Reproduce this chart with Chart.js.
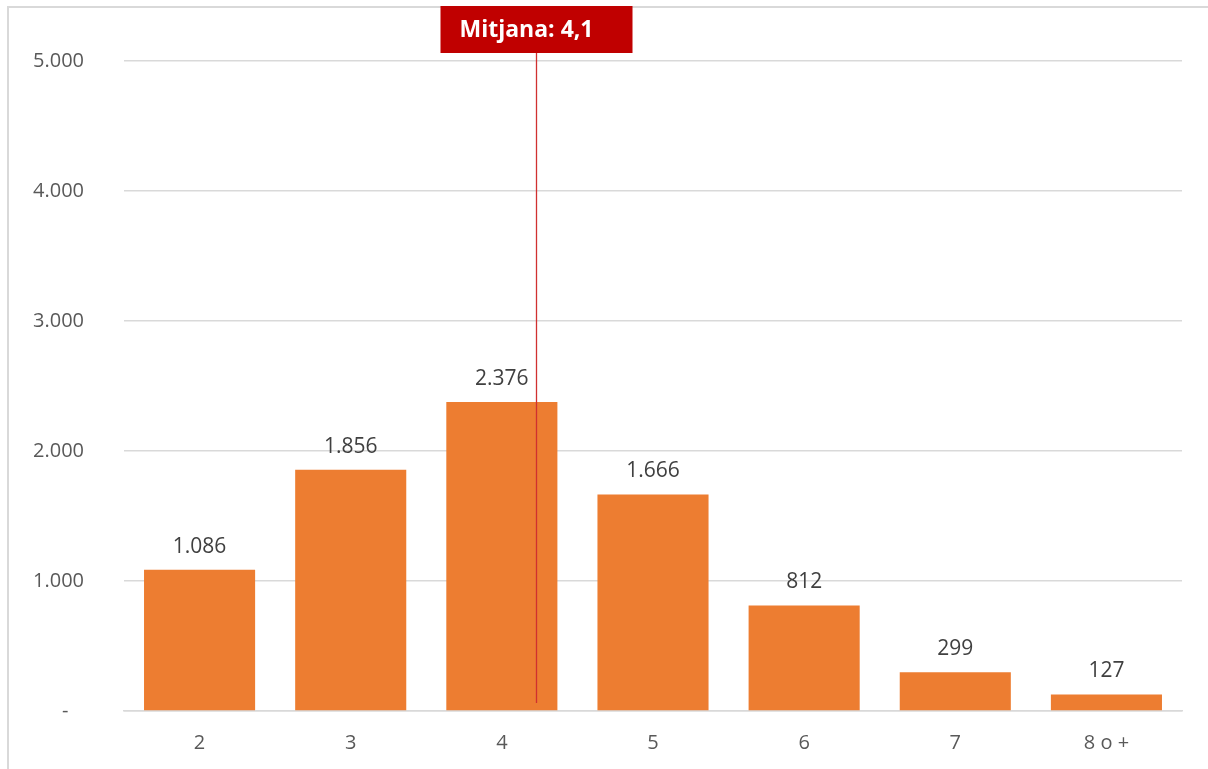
<!DOCTYPE html>
<html>
<head>
<meta charset="utf-8">
<script src="https://cdn.jsdelivr.net/npm/chart.js@4.4.1/dist/chart.umd.min.js"></script>
<style>
  html, body { margin: 0; padding: 0; background: #fff; }
  #wrap { position: relative; width: 1208px; height: 769px; }
</style>
</head>
<body>
<div id="wrap"><canvas id="chart"></canvas></div>
<script>
const categories = ["2", "3", "4", "5", "6", "7", "8 o +"];
const counts = [1086, 1856, 2376, 1666, 812, 299, 127];
const yTicks = [0, 1000, 2000, 3000, 4000, 5000];

const meanLabel = "Mitjana: 4,1";
// where the mean marker sits on the category axis (index space, as drawn in the original)
const meanIndex = 2.226;

const FONT = "'Open Sans', 'DejaVu Sans', sans-serif";

const fmt = (v) => String(v).replace(/\B(?=(\d{3})+(?!\d))/g, ".");

const framePlugin = {
  id: "frame",
  beforeDraw: (chart) => {
    const ctx = chart.ctx;
    ctx.save();
    ctx.strokeStyle = "#d9d9d9";
    ctx.lineWidth = 2;
    ctx.beginPath();
    ctx.moveTo(8, chart.height + 5);
    ctx.lineTo(8, 7);
    ctx.lineTo(chart.width + 5, 7);
    ctx.stroke();
    ctx.restore();
  }
};

const valueLabels = {
  id: "valueLabels",
  afterDatasetsDraw: (chart) => {
    const ctx = chart.ctx;
    ctx.save();
    ctx.font = "21px " + FONT;
    ctx.fillStyle = "#404040";
    ctx.textAlign = "center";
    ctx.textBaseline = "alphabetic";
    chart.getDatasetMeta(0).data.forEach((bar, i) => {
      ctx.fillText(fmt(counts[i]), bar.x, bar.y - 17);
    });
    ctx.restore();
  }
};

const meanMarker = {
  id: "meanMarker",
  afterDraw: (chart) => {
    const ctx = chart.ctx;
    const x = Math.round(chart.scales.x.getPixelForValue(meanIndex)) + 0.5;
    const area = chart.chartArea;
    const boxW = 192, boxTop = 6, boxBottom = 53;
    ctx.save();
    ctx.strokeStyle = "#d03030";
    ctx.lineWidth = 1.3;
    ctx.beginPath();
    ctx.moveTo(x, boxBottom);
    ctx.lineTo(x, area.bottom - 8);
    ctx.stroke();
    ctx.fillStyle = "#c00000";
    ctx.fillRect(x - boxW / 2, boxTop, boxW, boxBottom - boxTop);
    ctx.fillStyle = "#ffffff";
    ctx.font = "bold 23px " + FONT;
    ctx.textAlign = "left";
    ctx.textBaseline = "middle";
    ctx.fillText(meanLabel, x - boxW / 2 + 19, (boxTop + boxBottom) / 2 + 1);
    ctx.restore();
  }
};

new Chart(document.getElementById("chart"), {
  type: "bar",
  data: {
    labels: categories,
    datasets: [{
      data: counts,
      backgroundColor: "#ed7d31",
      borderWidth: 0,
      categoryPercentage: 1,
      barPercentage: 0.735
    }]
  },
  options: {
    responsive: true,
    maintainAspectRatio: false,
    animation: false,
    layout: { padding: { left: 8, right: 26, top: 61, bottom: 0 } },
    scales: {
      x: {
        grid: { display: false, drawTicks: false },
        border: { color: "#d9d9d9", width: 1.5 },
        ticks: { color: "#595959", font: { family: FONT, size: 20 }, padding: 20 },
        afterFit: (s) => { s.height = 769 - 711; }
      },
      y: {
        min: 0,
        max: 5000,
        afterBuildTicks: (s) => { s.ticks = yTicks.map((v) => ({ value: v })); },
        grid: { color: "#d9d9d9", lineWidth: 1.5, drawTicks: false },
        border: { display: false },
        ticks: {
          color: "#595959",
          font: { family: FONT, size: 20 },
          padding: 40,
          callback: (v) => (v === 0 ? "-   " : fmt(v))
        },
        afterFit: (s) => { s.width = 124 - 8; }
      }
    },
    plugins: {
      legend: { display: false },
      tooltip: { enabled: false }
    }
  },
  plugins: [framePlugin, valueLabels, meanMarker]
});
</script>
</body>
</html>
